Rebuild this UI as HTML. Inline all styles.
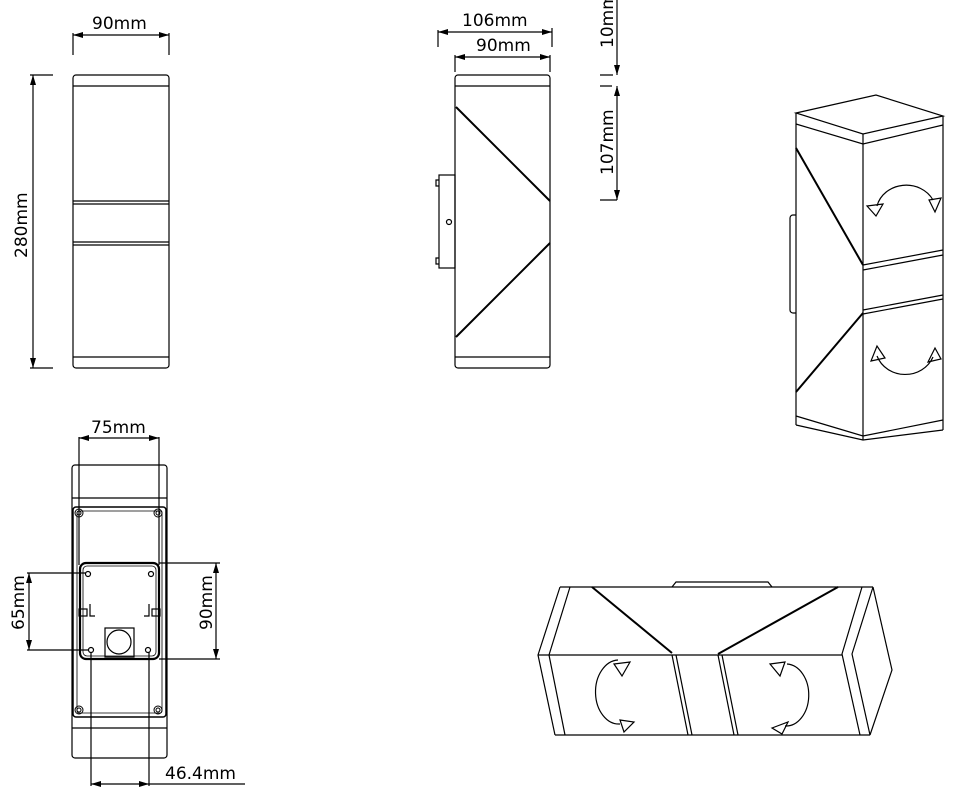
<!DOCTYPE html>
<html><head><style>html,body{margin:0;padding:0;background:#fff}svg{display:block}text{font-family:"DejaVu Sans","Liberation Sans",sans-serif;font-size:17px;fill:#000}</style></head>
<body>
<svg width="954" height="794" viewBox="0 0 954 794" xmlns="http://www.w3.org/2000/svg" fill="none" stroke="#000" stroke-width="1.2">
<defs>
<marker id="a" viewBox="0 0 10 6" refX="10" refY="3" markerWidth="10" markerHeight="6" orient="auto-start-reverse" markerUnits="userSpaceOnUse"><path d="M0,0L10,3L0,6z" fill="#000" stroke="none"/></marker>
</defs>
<!-- View 1 -->
<rect x="73" y="75" width="96" height="293" rx="3"/>
<path d="M73 86H169M73 201H169M73 204H169M73 242H169M73 245H169M73 357H169"/>
<path d="M73 33V55M169 33V55"/>
<line x1="73" y1="35" x2="169" y2="35" marker-start="url(#a)" marker-end="url(#a)"/>
<text x="92" y="29" stroke="none">90mm</text>
<path d="M30 75H53M30 368H53"/>
<line x1="33" y1="75" x2="33" y2="368" marker-start="url(#a)" marker-end="url(#a)"/>
<text transform="translate(27,258) rotate(-90)" stroke="none">280mm</text>
<!-- View 2 -->
<rect x="455" y="75" width="95" height="293" rx="3"/>
<path d="M455 86H550M455 357H550"/>
<path d="M456 107L550 201M550 243L456 337" stroke-width="2"/>
<rect x="439" y="175" width="16" height="93"/>
<path d="M439 180h-3v6h3M439 258h-3v6h3"/>
<circle cx="449" cy="222" r="2.5"/>
<path d="M438 30V47M552 28V47M455 55V72M550 55V72"/>
<line x1="438" y1="32" x2="552" y2="32" marker-start="url(#a)" marker-end="url(#a)"/>
<line x1="455" y1="57" x2="550" y2="57" marker-start="url(#a)" marker-end="url(#a)"/>
<text x="462" y="26" stroke="none">106mm</text>
<text x="476" y="51" stroke="none">90mm</text>
<line x1="617" y1="0" x2="617" y2="75" marker-end="url(#a)"/>
<path d="M600 75H613M600 86H612M600 200H617"/>
<line x1="617" y1="86" x2="617" y2="200" marker-start="url(#a)" marker-end="url(#a)"/>
<text transform="translate(613,48) rotate(-90)" stroke="none">10mm</text>
<text transform="translate(613,175) rotate(-90)" stroke="none">107mm</text>
<!-- View 3 -->
<rect x="72" y="465" width="95" height="293" rx="3"/>
<path d="M72 498H167M72 728H167"/>
<rect x="73" y="507" width="93" height="210" rx="3" stroke-width="1.5"/>
<rect x="77" y="511" width="85" height="202" rx="2" stroke-width="0.8"/>
<g stroke-width="1"><circle cx="79" cy="513" r="4"/><circle cx="79" cy="513" r="2"/><circle cx="158" cy="513" r="4"/><circle cx="158" cy="513" r="2"/><circle cx="79" cy="710" r="4"/><circle cx="79" cy="710" r="2"/><circle cx="158" cy="710" r="4"/><circle cx="158" cy="710" r="2"/></g>
<rect x="80" y="563" width="79" height="96" rx="6" stroke-width="2.2"/>
<rect x="83" y="566" width="73" height="90" rx="4" stroke-width="0.8"/>
<circle cx="88" cy="574" r="2.5"/><circle cx="151" cy="574" r="2.5"/><circle cx="91" cy="650" r="2.5"/><circle cx="148" cy="650" r="2.5"/>
<rect x="79" y="609" width="8" height="7"/><rect x="152" y="609" width="8" height="7"/>
<path d="M90 604v12h5M149 604v12h-5"/>
<rect x="105" y="628" width="29" height="29"/><circle cx="119" cy="642" r="12"/>
<path d="M79 437V565M159 437V565"/>
<line x1="79" y1="438" x2="159" y2="438" marker-start="url(#a)" marker-end="url(#a)"/>
<text x="91" y="433" stroke="none">75mm</text>
<path d="M159 563H220M159 659H220"/>
<line x1="216" y1="563" x2="216" y2="659" marker-start="url(#a)" marker-end="url(#a)"/>
<text transform="translate(212,630) rotate(-90)" stroke="none">90mm</text>
<path d="M27 573H86M27 650H88"/>
<line x1="29" y1="573" x2="29" y2="650" marker-start="url(#a)" marker-end="url(#a)"/>
<text transform="translate(24,630) rotate(-90)" stroke="none">65mm</text>
<path d="M91 652V786M149 652V786"/>
<line x1="91" y1="784" x2="149" y2="784" marker-start="url(#a)" marker-end="url(#a)"/>
<path d="M149 784H245"/>
<text x="165" y="779" stroke="none">46.4mm</text>
<!-- Iso right -->
<path d="M796 113L876 95L943 116L863 134Z"/>
<path d="M796 124L863 144L943 125"/>
<path d="M796 113V425M863 134V440M943 116V430"/>
<path d="M796 148L863 265M863 313L796 392" stroke-width="2"/>
<path d="M863 265L943 250M863 270L943 255M863 310L943 295M863 314L943 299"/>
<path d="M796 416L863 436L943 420M796 425L863 440L943 430"/>
<path d="M796 215h-3a3 3 0 0 0-3 3v92a3 3 0 0 0 3 3h3"/>
<path d="M877 206A30 27 0 0 1 933 200"/>
<path d="M867 206L883 204L876 216Z M929 200L941 198L935 212Z"/>
<path d="M877 356A30 28 0 0 0 933 357"/>
<path d="M871 361L885 358L877 346Z M928 362L941 359L935 348Z"/>
<!-- Iso bottom -->
<path d="M560 587H873M555 735H870"/>
<path d="M560 587L538 655L555 735M570 587L549 655L565 735"/>
<path d="M862 587L842 654L860 735M873 587L852 654L870 735M873 587L892 670L870 735"/>
<path d="M538 655H842"/>
<path d="M592 587L672 653M838 587L718 654" stroke-width="2"/>
<path d="M672 655L688 735M676 655L692 735M718 655L734 735M722 655L738 735"/>
<path d="M672 587L676 582H768L772 587"/>
<path d="M618 660A22 30 0 0 0 620 724"/>
<path d="M614 664L630 662L622 676Z M620 720L634 722L624 732Z"/>
<path d="M787 664A22 30 0 0 1 785 726"/>
<path d="M770 664L785 662L780 676Z M772 728L788 722L782 734Z"/>
</svg>
</body></html>
